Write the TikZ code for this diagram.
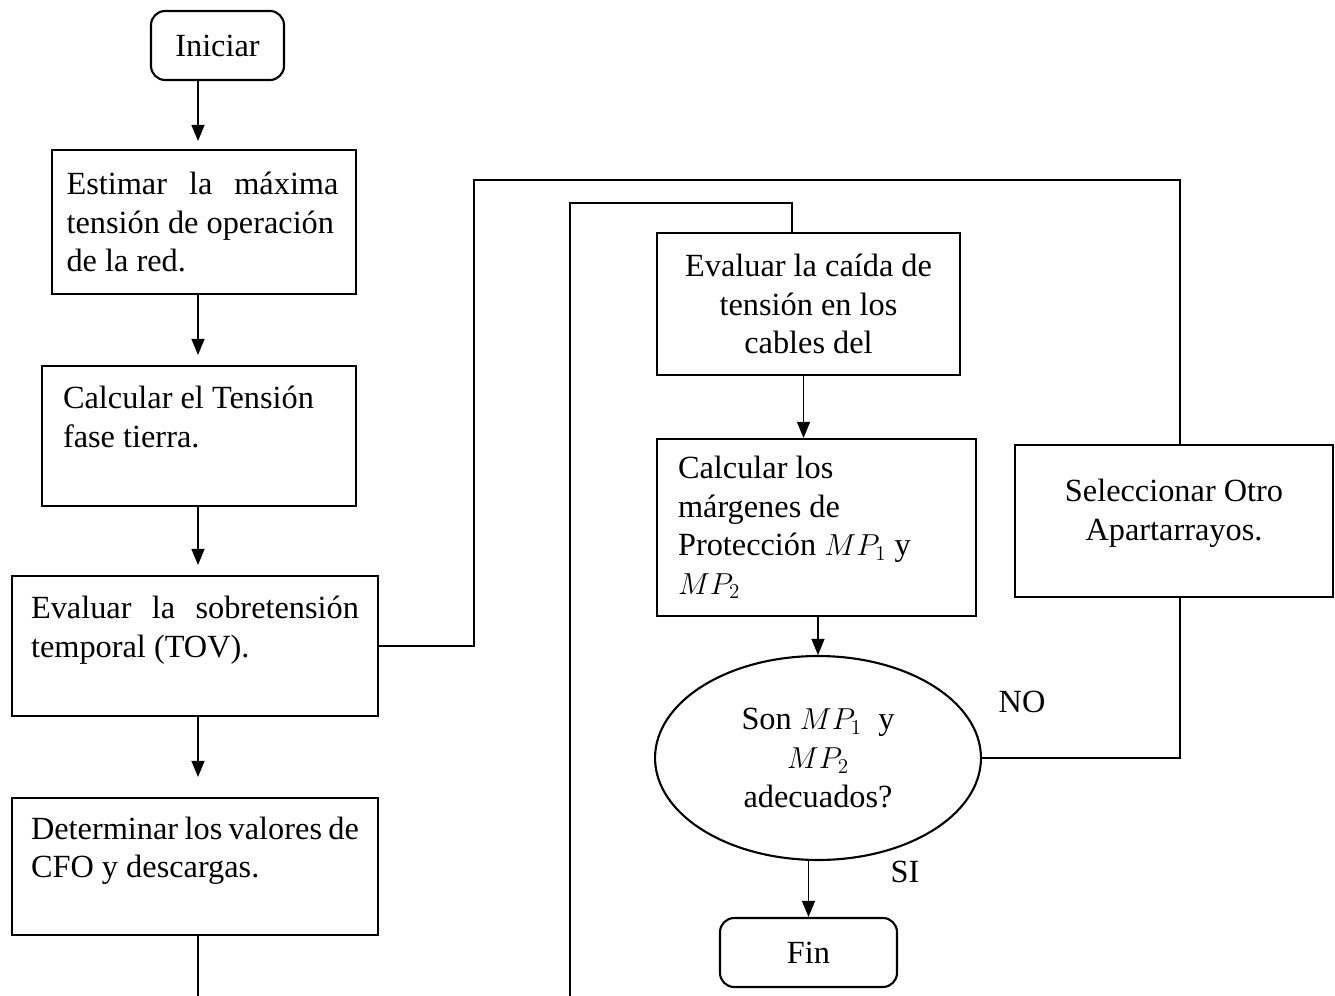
\documentclass[tikz,border=0pt]{standalone}
\usepackage{amsmath}
\usepackage{fontspec}
\setmainfont{Liberation Serif}
\usetikzlibrary{shapes.geometric, arrows.meta}
\newcommand\natspace{\spaceskip=0pt\xspaceskip=0pt\relax}

\begin{document}
\begin{tikzpicture}[x=0.02cm, y=-0.02cm, line width=0.6pt,
        font=\fontsize{18.4}{22}\selectfont,
        every node/.style={execute at begin node=\natspace},
        box/.style={draw, line width=1.2pt, inner sep=0pt},
        term/.style={draw, line width=1.2pt, rounded corners=8pt, minimum height=1.38cm},
        decision/.style={draw, ellipse, line width=1.2pt, minimum width=6.52cm, minimum height=4.08cm, inner sep=0pt, align=center},
        arr/.style={-{Triangle[length=0.32cm, width=0.26cm]}}]
            \useasboundingbox (0,0) rectangle (1335,996);

            % Left column
            \node[term, minimum width=2.66cm] (start) at (217.5,45.5) {Iniciar};
            \node[box, minimum width=6.08cm, minimum height=2.88cm, text width=5.5cm, align=left] (est) at (204,222)
                {\makebox[5.44cm]{Estimar\hfill la\hfill máxima}\\ tensión de operación\\ de la red.};
            \node[box, minimum width=6.28cm, minimum height=2.8cm, text width=5.44cm, align=left] (calc) at (199,436)
                {Calcular el Tensión\\ fase tierra.\\ \mbox{}};
            \node[box, minimum width=7.32cm, minimum height=2.8cm, text width=6.56cm, align=left] (tov) at (195,646)
                {\makebox[6.56cm]{Evaluar\hfill la\hfill sobretensión}\\ temporal (TOV).\\ \mbox{}};
            \node[box, minimum width=7.32cm, minimum height=2.74cm, text width=6.56cm, align=left] (cfo) at (195,866.5)
                {\makebox[6.56cm]{Determinar\hfill los\hfill valores\hfill de}\\ CFO y descargas.\\ \mbox{}};

            % Right part
            \node[box, minimum width=6.06cm, minimum height=2.84cm, align=center] (caida) at (808.5,304)
                {Evaluar la caída de\\ tensión en los\\ cables del};
            \node[box, minimum width=6.38cm, minimum height=3.54cm, text width=5.54cm, align=left] (margen) at (816.5,527.5)
                {Calcular los\\ márgenes de\\ Protección $MP_1$ y\\ $MP_2$};
            \node[box, minimum width=6.36cm, minimum height=3.04cm, align=center] (sel) at (1174,521)
                {Seleccionar Otro\\ Apartarrayos.\\[-9pt] \mbox{}};
            \node[decision] (dec) at (818,758) {Son $MP_1$\ \ y\\ $MP_2$\\ adecuados?};
            \node[term, minimum width=3.54cm] (fin) at (808.5,952.5) {Fin};

            % Labels
            \node (no) at (1022,702) {NO};
            \node (si) at (905,872) {SI};

            % Arrows left column
            \coordinate (spine) at (198,0);
            \draw[arr, shorten >=0.16cm] (start.south -| spine) -- (est.north -| spine);
            \draw[arr, shorten >=0.2cm] (est.south -| spine) -- (calc.north -| spine);
            \draw[arr, shorten >=0.2cm] (calc.south -| spine) -- (tov.north -| spine);
            \draw[arr, shorten >=0.4cm] (tov.south -| spine) -- (cfo.north -| spine);
            \coordinate (cfoend) at (198,996);
            \draw (cfo.south -| spine) -- (cfoend);

            % Loop to Seleccionar
            \coordinate (bendA) at (474,180);
            \coordinate (rail) at (1180,180);
            \draw (tov.east) -| (bendA) -- (rail) -- (sel.north -| rail);

            % Loop to Evaluar caida
            \coordinate (loopfoot) at (570,996);
            \coordinate (bendB) at (570,203);
            \draw (loopfoot) -- (bendB) -| ([xshift=-0.33cm]caida.north);

            % Arrows right part
            \draw[arr] ([xshift=-0.1cm]caida.south) -- ([xshift=-0.1cm]caida.south |- margen.north);
            \draw[arr] (margen.south -| dec) -- (dec.north);
            \draw[arr] (dec.south -| fin) -- (fin.north);
            \draw (dec.east) -| (sel.south -| rail);
\end{tikzpicture}
\end{document}
